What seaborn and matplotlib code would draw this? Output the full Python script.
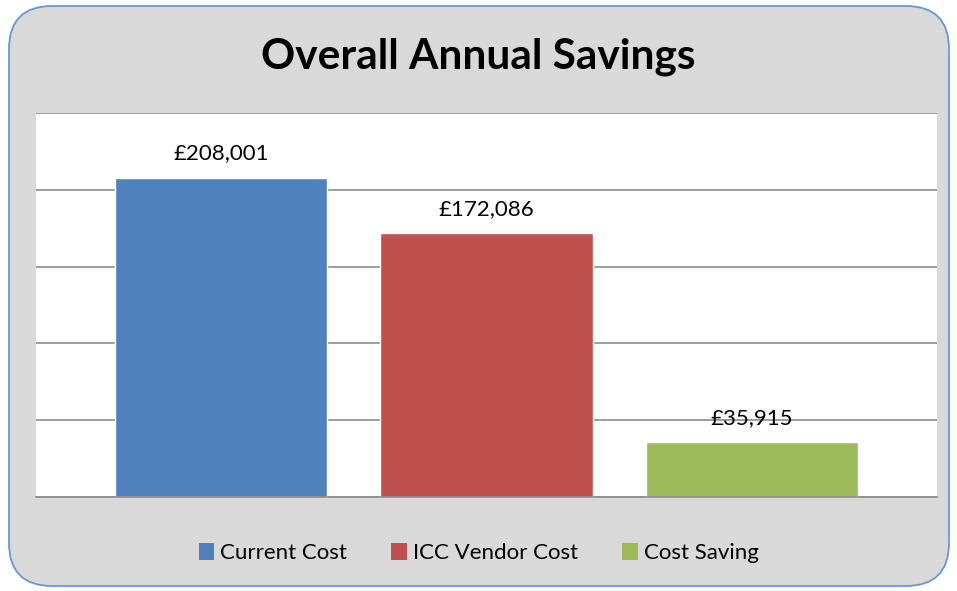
import matplotlib
matplotlib.use("Agg")
import matplotlib.pyplot as plt
from matplotlib.patches import FancyBboxPatch, Patch
import pandas as pd
import seaborn as sns

# data
categories = ["Current Cost", "ICC Vendor Cost", "Cost Saving"]
values = [208001, 172086, 35915]
labels = ["£208,001", "£172,086", "£35,915"]
colors = ["#4F81BD", "#C0504D", "#9BBB59"]

df = pd.DataFrame({"cat": categories, "val": values})

sns.set_theme(style="white")
plt.rcParams["font.family"] = ["Lato", "DejaVu Sans"]

fig = plt.figure(figsize=(9.57, 5.91), dpi=100, facecolor="white")

# rounded grey chart area with blue outline
W, H = 957, 591
box = FancyBboxPatch((9 / W, 5 / H), 940 / W, 580 / H,
                     boxstyle="round,pad=0,rounding_size=0.045",
                     transform=fig.transFigure, facecolor="#D9D9D9",
                     edgecolor="#6A96D8", linewidth=1.3, mutation_aspect=W / H,
                     zorder=-10)
fig.patches.append(box)

ax = fig.add_axes([36 / W, 1 - 497 / H, 901 / W, 384 / H])
ax.set_facecolor("white")
sns.barplot(data=df, x="cat", y="val", hue="cat", palette=colors,
            width=0.8, dodge=False, legend=False, ax=ax, saturation=1)

ax.set_ylim(0, 250000)
ax.set_yticks(range(0, 250001, 50000))
ax.set_xlim(-0.697, 2.697)
ax.yaxis.grid(True, color="#8C8C8C", linewidth=1.2)
ax.set_axisbelow(True)
ax.set_xticks([])
ax.set_yticklabels([])
ax.tick_params(left=False, bottom=False)
ax.set_xlabel("")
ax.set_ylabel("")
for s in ["left", "right", "top"]:
    ax.spines[s].set_visible(False)
ax.spines["bottom"].set_color("#8C8C8C")
ax.spines["bottom"].set_linewidth(1.2)

for i, (v, lab) in enumerate(zip(values, labels)):
    ax.annotate(lab, (i, v), xytext=(0, 13), textcoords="offset points",
                ha="center", va="baseline", fontsize=16, color="black")

fig.text(0.5, 1 - 68 / H, "Overall Annual Savings", ha="center", va="baseline",
         fontsize=30.5, fontweight="bold", color="black")

handles = [Patch(facecolor=c, edgecolor="none") for c in colors]
leg = fig.legend(handles, categories, loc="center", bbox_to_anchor=(0.5, 1 - 553 / H),
                 ncol=3, frameon=False, fontsize=16, handlelength=0.7,
                 handleheight=0.8, handletextpad=0.26, columnspacing=2.0)
for t in leg.get_texts():
    t.set_color("black")

fig.savefig("out.png", dpi=100, facecolor="white")
